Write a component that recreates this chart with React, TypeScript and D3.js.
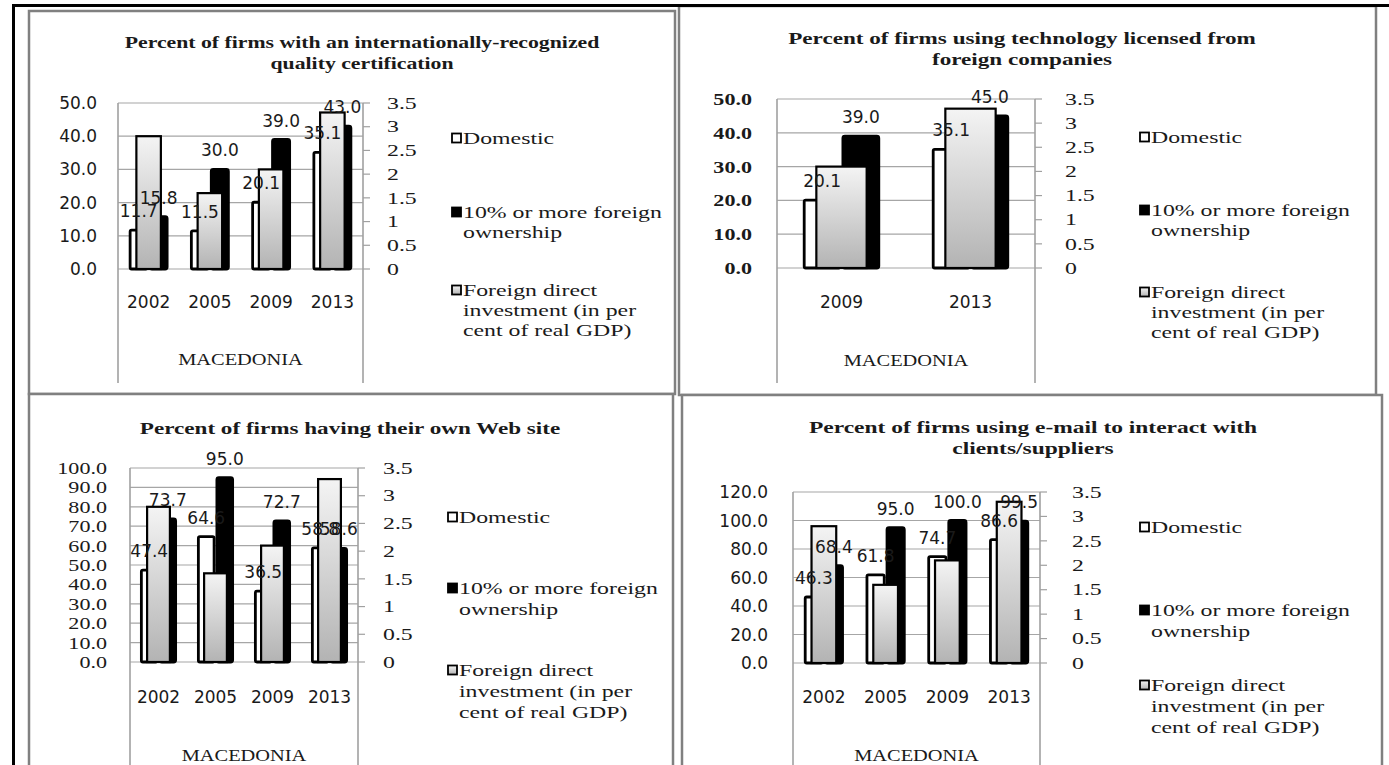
import React from 'react';
import * as d3 from 'd3';

// Categories
const years4 = ['2002', '2005', '2009', '2013'];
const years2 = ['2009', '2013'];
const country = 'MACEDONIA';

// Foreign direct investment, % of real GDP (secondary axis)
const fdi4 = [2.8, 1.6, 2.1, 3.3];
const fdi2 = [2.1, 3.3];

// Percent of firms
const certDomestic = [11.7, 11.5, 20.1, 35.1];
const certForeign = [15.8, 30.0, 39.0, 43.0];
const licDomestic = [20.1, 35.1];
const licForeign = [39.0, 45.0];
const webDomestic = [47.4, 64.6, 36.5, 58.8];
const webForeign = [73.7, 95.0, 72.7, 58.6];
const mailDomestic = [46.3, 61.8, 74.7, 86.6];
const mailForeign = [68.4, 95.0, 100.0, 99.5];

const legendDomestic = ['Domestic'];
const legendForeign = ['10% or more foreign', 'ownership'];
const legendFdi = ['Foreign direct', 'investment (in per', 'cent of real GDP)'];

const certTitle = ['Percent of firms with an internationally-recognized', 'quality certification'];
const licTitle = ['Percent of firms using technology licensed from', 'foreign companies'];
const webTitle = ['Percent of firms having their own Web site'];
const mailTitle = ['Percent of firms using e-mail to interact with', 'clients/suppliers'];

const SERIF = "'Liberation Serif', 'Times New Roman', serif";
const SANS = "'DejaVu Sans', Verdana, sans-serif";
const INK = '#1a1a1a';

// text stretched horizontally, like the source picture
const Txt = ({ x, y, sx = 1, anchor = 'start', font = SERIF, size = 17, weight = 'normal', children }: any) => (
  <text
    transform={`translate(${x},${y}) scale(${sx},1)`}
    textAnchor={anchor}
    dominantBaseline="central"
    fontFamily={font}
    fontSize={size}
    fontWeight={weight}
    fill={INK}
  >
    {children}
  </text>
);

const Panel = ({ cfg, title, cats, dom, forn, fdi }: any) => {
  const { plot } = cfg;
  const x = d3.scaleBand().domain(cats).range([plot.l, plot.r]);
  const band = x.bandwidth();
  const y = d3.scaleLinear().domain([0, cfg.leftMax]).range([plot.b, plot.t]);
  const y2 = d3.scaleLinear().domain([0, 3.5]).range([plot.b, plot.t]);
  const clusterW = band * cfg.cluster;
  const inner = d3.scaleBand().domain(['d', 'f']).range([0, clusterW]);
  const fdiW = band * cfg.fdiW;
  const leftTicks = d3.range(0, cfg.leftMax + cfg.leftStep / 2, cfg.leftStep);
  const rightTicks = y2.ticks(7);
  const sw = 2.8;

  const barX = (c: string, k: string) => (x(c) as number) + (band - clusterW) / 2 + (inner(k) as number);
  const leftFont = cfg.leftFont === 'sans' ? SANS : SERIF;
  const leftSx = cfg.leftFont === 'sans' ? 1 : 1.3;
  const leftWeight = cfg.leftFont === 'serifBold' ? 'bold' : 'normal';

  const lg = cfg.legend;
  return (
    <g>
      <rect x={cfg.x0} y={cfg.y0} width={cfg.x1 - cfg.x0} height={cfg.y1 - cfg.y0} fill="#fff" stroke="#808080" strokeWidth={2.5} />
      {title.map((t: string, i: number) => (
        <Txt key={i} x={cfg.titleX} y={cfg.titleY + i * 21} sx={cfg.titleSx} anchor="middle" weight="bold">{t}</Txt>
      ))}

      {/* gridlines */}
      {leftTicks.map((v: number) => (
        <line key={v} x1={plot.l} x2={plot.r} y1={y(v)} y2={y(v)} stroke="#a6a6a6" strokeWidth={1.2} />
      ))}
      <line x1={plot.l} x2={plot.l} y1={plot.t} y2={cfg.lineBottom} stroke="#a0a0a0" strokeWidth={1.6} />
      <line x1={plot.r} x2={plot.r} y1={plot.t} y2={cfg.lineBottom} stroke="#a0a0a0" strokeWidth={1.6} />
      {rightTicks.map((v: number) => (
        <line key={v} x1={plot.r} x2={plot.r + 7} y1={y2(v)} y2={y2(v)} stroke="#a0a0a0" strokeWidth={1.2} />
      ))}

      {/* axis labels */}
      {leftTicks.map((v: number) => (
        <Txt key={v} x={cfg.leftLabelX} y={y(v)} anchor="end" font={leftFont} sx={leftSx} weight={leftWeight}>{v.toFixed(1)}</Txt>
      ))}
      {rightTicks.map((v: number) => (
        <Txt key={v} x={cfg.rightLabelX} y={y2(v)} sx={1.4}>{String(v)}</Txt>
      ))}
      {cats.map((c: string) => (
        <Txt key={c} x={(x(c) as number) + band / 2} y={cfg.catY} anchor="middle" font={SANS}>{c}</Txt>
      ))}
      <Txt x={(plot.l + plot.r) / 2} y={cfg.countryY} anchor="middle" sx={1.2}>{country}</Txt>

      {/* primary bars */}
      {cats.map((c: string, i: number) => (
        <g key={c}>
          <rect x={barX(c, 'd') + sw / 2} y={y(dom[i])} width={inner.bandwidth() - sw} height={plot.b - y(dom[i])} fill="#fff" stroke="#000" strokeWidth={sw} rx={1.5} />
          <rect x={barX(c, 'f') + sw / 2} y={y(forn[i])} width={inner.bandwidth() - sw} height={plot.b - y(forn[i])} fill="#000" stroke="#000" strokeWidth={sw} rx={2} />
        </g>
      ))}
      {/* secondary bars */}
      {cats.map((c: string, i: number) => (
        <rect key={c} x={(x(c) as number) + (band - fdiW) / 2} y={y2(fdi[i])} width={fdiW} height={plot.b - y2(fdi[i])} fill="url(#fdiGrad)" stroke="#000" strokeWidth={2.2} />
      ))}
      {/* data labels */}
      {cats.map((c: string, i: number) => (
        <g key={c}>
          <Txt x={barX(c, 'd') + inner.bandwidth() / 2} y={y(dom[i]) - 19} anchor="middle" font={SANS}>{dom[i].toFixed(1)}</Txt>
          <Txt x={barX(c, 'f') + inner.bandwidth() / 2} y={y(forn[i]) - 19} anchor="middle" font={SANS}>{forn[i].toFixed(1)}</Txt>
        </g>
      ))}

      {/* legend */}
      {[
        { lines: legendDomestic, fill: '#fff', y: lg.y[0] },
        { lines: legendForeign, fill: '#000', y: lg.y[1] },
        { lines: legendFdi, fill: 'url(#fdiGrad)', y: lg.y[2] },
      ].map((e, k) => (
        <g key={k}>
          <rect x={lg.x} y={e.y - 4.5} width={9} height={9} fill={e.fill} stroke="#000" strokeWidth={1.8} />
          {e.lines.map((t: string, j: number) => (
            <Txt key={j} x={lg.x + 11} y={e.y + j * lg.gap} sx={1.4}>{t}</Txt>
          ))}
        </g>
      ))}
    </g>
  );
};

export default function App() {
  const p1 = {
    x0: 29, y0: 11, x1: 675, y1: 394, titleX: 362, titleY: 42, titleSx: 1.28,
    plot: { l: 118, r: 363, t: 103, b: 269 }, leftMax: 50, leftStep: 10, leftLabelX: 97, leftFont: 'sans',
    rightLabelX: 387, catY: 302, countryY: 359, lineBottom: 383, cluster: 0.65, fdiW: 0.4,
    legend: { x: 452, y: [138, 212, 290], gap: 20 },
  };
  const p2 = {
    x0: 679, y0: 6, x1: 1376, y1: 395, titleX: 1022, titleY: 38, titleSx: 1.36,
    plot: { l: 777, r: 1035, t: 99, b: 268 }, leftMax: 50, leftStep: 10, leftLabelX: 752, leftFont: 'serifBold',
    rightLabelX: 1065, catY: 302, countryY: 360, lineBottom: 383, cluster: 0.6, fdiW: 0.39,
    legend: { x: 1140, y: [137, 210, 292], gap: 20 },
  };
  const p3 = {
    x0: 29, y0: 394, x1: 673, y1: 775, titleX: 350, titleY: 428, titleSx: 1.36,
    plot: { l: 130, r: 358, t: 468, b: 662 }, leftMax: 100, leftStep: 10, leftLabelX: 107, leftFont: 'serif',
    rightLabelX: 383, catY: 697, countryY: 755, lineBottom: 775, cluster: 0.65, fdiW: 0.4,
    legend: { x: 448, y: [517, 588, 670], gap: 21 },
  };
  const p4 = {
    x0: 682, y0: 395, x1: 1382, y1: 775, titleX: 1033, titleY: 427, titleSx: 1.38,
    plot: { l: 793, r: 1040, t: 492, b: 663 }, leftMax: 120, leftStep: 20, leftLabelX: 768, leftFont: 'sans',
    rightLabelX: 1072, catY: 697, countryY: 755, lineBottom: 775, cluster: 0.65, fdiW: 0.4,
    legend: { x: 1140, y: [527, 610, 685], gap: 21 },
  };

  return (
    <div style={{ position: 'absolute', left: 0, top: 0 }}>
      <svg width={1389} height={765} style={{ display: 'block', background: '#fff' }}>
        <defs>
          <linearGradient id="fdiGrad" x1="0" y1="0" x2="0" y2="1">
            <stop offset="0%" stopColor="#f4f4f4" />
            <stop offset="100%" stopColor="#b3b3b3" />
          </linearGradient>
        </defs>
        <Panel cfg={p1} title={certTitle} cats={years4} dom={certDomestic} forn={certForeign} fdi={fdi4} />
        <Panel cfg={p2} title={licTitle} cats={years2} dom={licDomestic} forn={licForeign} fdi={fdi2} />
        <Panel cfg={p3} title={webTitle} cats={years4} dom={webDomestic} forn={webForeign} fdi={fdi4} />
        <Panel cfg={p4} title={mailTitle} cats={years4} dom={mailDomestic} forn={mailForeign} fdi={fdi4} />
        <line x1={12} x2={1389} y1={5.5} y2={5.5} stroke="#000" strokeWidth={3} />
        <line x1={13.5} x2={13.5} y1={4} y2={765} stroke="#000" strokeWidth={3} />
      </svg>
    </div>
  );
}
